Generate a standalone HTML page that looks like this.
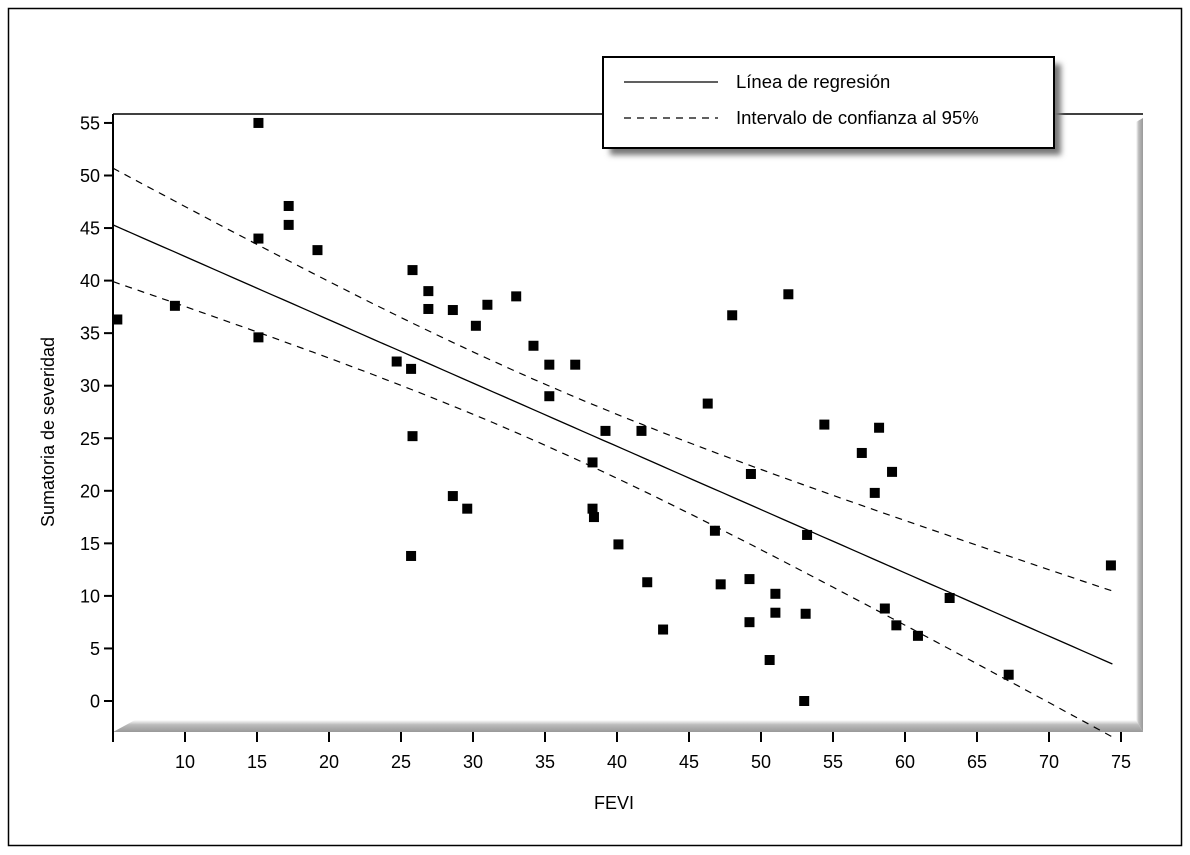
<!DOCTYPE html>
<html><head><meta charset="utf-8"><style>
body{margin:0;background:#fff;}
svg{display:block;font-family:"Liberation Sans",Arial,sans-serif;}
</style></head><body>
<svg id="chart" width="1190" height="855" viewBox="0 0 1190 855">
<defs>
<linearGradient id="gb" x1="0" y1="0" x2="0" y2="1"><stop offset="0" stop-color="#fff"/><stop offset="0.4" stop-color="#bbb"/><stop offset="1" stop-color="#999"/></linearGradient>
<linearGradient id="gr" x1="0" y1="0" x2="1" y2="0"><stop offset="0" stop-color="#fff"/><stop offset="0.4" stop-color="#bbb"/><stop offset="1" stop-color="#999"/></linearGradient>
<filter id="blur"><feGaussianBlur stdDeviation="3"/></filter>
</defs>
<rect x="8.5" y="8.5" width="1173" height="837" fill="none" stroke="#000" stroke-width="1.5"/>
<polygon points="113,732 135,720 1136,720 1143,732" fill="url(#gb)"/>
<polygon points="1136,122 1143,118 1143,732 1136,720" fill="url(#gr)"/>
<line x1="113" y1="114" x2="1143" y2="114" stroke="#000" stroke-width="1.5"/>
<line x1="113" y1="114" x2="113" y2="742" stroke="#000" stroke-width="2"/>
<g id="axes"></g>
<g id="lines"></g>
<g id="points"></g>
<text x="54" y="432" font-size="18" text-anchor="middle" transform="rotate(-90 54 432)">Sumatoria de severidad</text>
<text x="614" y="809" font-size="18" text-anchor="middle">FEVI</text>
<g>
<rect x="610" y="64" width="451" height="91" fill="#777" filter="url(#blur)"/>
<rect x="603" y="57" width="451" height="91" fill="#fff" stroke="#000" stroke-width="2"/>
<line x1="624" y1="82" x2="718" y2="82" stroke="#000" stroke-width="1.3"/>
<text x="736" y="88" font-size="18.5">Línea de regresión</text>
<line x1="624" y1="118" x2="718" y2="118" stroke="#000" stroke-width="1.3" stroke-dasharray="7,6"/>
<text x="736" y="124" font-size="18.5">Intervalo de confianza al 95%</text>
</g>
</svg>
<script>
const xVals=[5.3,9.3,15.1,15.1,15.1,17.2,17.2,19.2,24.7,25.8,25.7,25.8,25.7,26.9,26.9,28.6,28.6,29.6,30.2,31,33,34.2,35.3,35.3,37.1,38.3,38.3,38.4,39.2,40.1,41.7,42.1,43.2,46.3,46.8,47.2,48,49.3,49.2,49.2,50.6,51,51,51.9,53.2,53.1,53,54.4,57,57.9,58.2,58.6,59.1,59.4,60.9,63.1,67.2,74.3];
const yVals=[36.3,37.6,55,44,34.6,47.1,45.3,42.9,32.3,41,31.6,25.2,13.8,39,37.3,37.2,19.5,18.3,35.7,37.7,38.5,33.8,32,29,32,22.7,18.3,17.5,25.7,14.9,25.7,11.3,6.8,28.3,16.2,11.1,36.7,21.6,11.6,7.5,3.9,10.2,8.4,38.7,15.8,8.3,0,26.3,23.6,19.8,26,8.8,21.8,7.2,6.2,9.8,2.5,12.9];
const xTicks=[10,15,20,25,30,35,40,45,50,55,60,65,70,75];
const yTicks=[0,5,10,15,20,25,30,35,40,45,50,55];
const regIntercept=45.3, regSlope=-0.602, regX0=5, ciA=8.4, ciB=0.0245, ciMean=34.1;
const lineRange=[5,74.4];
const X=v=>113+(v-5)*14.4;
const Y=v=>701-v*10.51;
const NS="http://www.w3.org/2000/svg";
function mk(t,a,p){const e=document.createElementNS(NS,t);for(const k in a)e.setAttribute(k,a[k]);p.appendChild(e);return e;}
const ax=document.getElementById('axes');
xTicks.forEach(t=>{
 const l=mk('line',{x1:X(t),x2:X(t),y1:732,y2:742,stroke:'#000','stroke-width':2},ax);
 
 
 const tx=mk('text',{x:X(t),y:768,'font-size':18,'text-anchor':'middle'},ax);tx.textContent=t;
 
 
});
yTicks.forEach(t=>{
 const l=mk('line',{x1:104,x2:113,y1:Y(t),y2:Y(t),stroke:'#000','stroke-width':2},ax);
 
 
 const tx=mk('text',{x:100,y:Y(t)+6.5,'font-size':18,'text-anchor':'end'},ax);tx.textContent=t;
 
 
});
const lg=document.getElementById('lines');
function pred(x){return regIntercept+regSlope*(x-regX0);}
function hw(x){return Math.sqrt(ciA+ciB*(x-ciMean)*(x-ciMean));}
function path(f){let d='';for(let i=0;i<=100;i++){const x=lineRange[0]+(lineRange[1]-lineRange[0])*i/100;d+=(i?'L':'M')+X(x).toFixed(1)+','+Y(f(x)).toFixed(1);}return d;}
const rl=mk('path',{d:path(pred),fill:'none',stroke:'#000','stroke-width':1.3},lg);


const up=mk('path',{d:path(x=>pred(x)+hw(x)),fill:'none',stroke:'#000','stroke-width':1.2,'stroke-dasharray':'7,6'},lg);


const lo=mk('path',{d:path(x=>pred(x)-hw(x)),fill:'none',stroke:'#000','stroke-width':1.2,'stroke-dasharray':'7,6'},lg);


const pg=document.getElementById('points');
xVals.forEach((x,i)=>{
 const r=mk('rect',{x:X(x)-5,y:Y(yVals[i])-5,width:10,height:10,fill:'#000'},pg);
 
 
});
</script>
</body></html>
